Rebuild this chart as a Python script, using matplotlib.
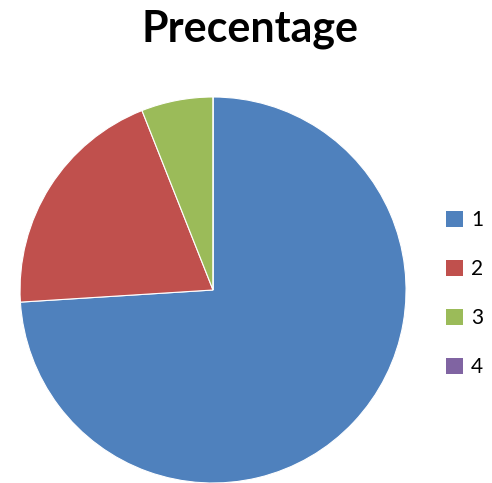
import matplotlib.pyplot as plt
from matplotlib.patches import Patch

labels = ['1', '2', '3', '4']
values = [74, 20, 6, 0]
colors = ['#4F81BD', '#C0504D', '#9BBB59', '#8064A2']

plt.rcParams['font.family'] = ['Lato', 'DejaVu Sans']

fig = plt.figure(figsize=(4.92, 4.83), dpi=100)
ax = fig.add_axes([0.0407, 0.0, 0.7846, 0.7992])

ax.pie(values, colors=colors, startangle=90, counterclock=False,
       wedgeprops=dict(edgecolor='white', linewidth=0.8))
ax.set_xlim(-1, 1)
ax.set_ylim(-1, 1)
ax.set_aspect('equal')

fig.text(0.508, 0.94, 'Precentage', ha='center', va='center',
         fontsize=31, fontweight='bold')

handles = [Patch(facecolor=c, edgecolor='none') for c in colors]
fig.legend(handles, labels, loc='center left', bbox_to_anchor=(0.89, 0.392),
           frameon=False, fontsize=15, handlelength=0.8, handleheight=0.8,
           handletextpad=0.4, labelspacing=1.4, borderaxespad=0)

fig.savefig('out.png', dpi=100)
